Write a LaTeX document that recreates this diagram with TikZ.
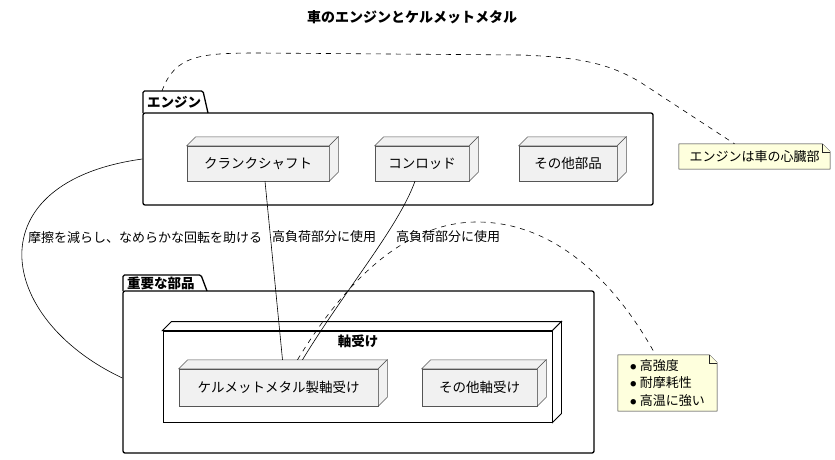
\documentclass[tikz,border=0pt]{standalone}
\usepackage{fontspec}
\setmainfont{Noto Sans CJK JP}
\usetikzlibrary{calc}
\definecolor{nodefill}{HTML}{F1F1F1}
\definecolor{nodeline}{HTML}{555555}
\definecolor{notefill}{HTML}{FEFFDD}
\newcommand\threedparts[2]{%
  \filldraw[#2] (#1.north west) -- ++(9,-9) -- ([shift={(9,-9)}]#1.north east) -- (#1.north east) -- cycle;
  \filldraw[#2] (#1.north east) -- ++(9,-9) -- ([shift={(9,-9)}]#1.south east) -- (#1.south east) -- cycle;}
\newcommand\notedraw[1]{%
  \filldraw[noteline] (#1.north west) -- ([xshift=-8pt]#1.north east) -- ([yshift=-8pt]#1.north east) -- (#1.south east) -- (#1.south west) -- cycle;
  \draw[noteline] ([xshift=-8pt]#1.north east) -- ([xshift=-8pt,yshift=-8pt]#1.north east) -- ([yshift=-8pt]#1.north east);}
\newcommand\bulletdot{\raisebox{1.2pt}{\fontsize{6}{7}\selectfont ●}\hspace{3.5pt}}
\tikzset{
  partbox/.style={draw=nodeline, fill=nodefill, line width=0.5pt, inner sep=0pt, font=\fontsize{13.5}{16}\selectfont},
  partside/.style={draw=nodeline, fill=nodefill, line width=0.5pt},
  groupbox/.style={draw=black, fill=white, line width=0.9pt, inner sep=0pt},
  groupside/.style={draw=black, fill=white, line width=0.9pt},
  pkgbox/.style={draw=black, line width=1.3pt, rounded corners=2pt, inner sep=0pt},
  pkgtab/.style={draw=black, line width=1.3pt, rounded corners=1.5pt},
  pkglabel/.style={font=\bfseries\fontsize{13.5}{16}\selectfont, anchor=west, inner sep=0pt},
  conn/.style={draw=black, line width=0.6pt},
  noteconn/.style={draw=black, line width=0.6pt, dash pattern=on 5pt off 5pt},
  noteline/.style={draw=black!85, fill=notefill, line width=0.5pt},
  notebox/.style={inner sep=0pt, font=\fontsize{13}{17.5}\selectfont, align=left},
  lbl/.style={font=\fontsize{13}{16}\selectfont, inner sep=0pt},
}
\begin{document}
\begin{tikzpicture}[x=1pt,y=-1pt]
\useasboundingbox (0,0) rectangle (835,460);
\node[font=\bfseries\fontsize{14}{16}\selectfont] (title) at (412,17) {車のエンジンとケルメットメタル};

% package Engine
\draw[pkgtab] (143,113) -- (143,91) -- (203,91) -- (208,113);
\node[pkgbox, minimum width=510, minimum height=92] (engine) at (398,159) {};
\node[pkglabel] (enginetab) at (147,102) {エンジン};
\coordinate (enginetop) at (162,91);

% package Important parts
\draw[pkgtab] (123,291) -- (123,275) -- (201,275) -- (207,291);
\node[pkgbox, minimum width=471, minimum height=162] (important) at (358.5,372) {};
\node[pkglabel] (importanttab) at (127,283) {重要な部品};

% engine parts
\node[partbox, minimum width=142, minimum height=35] (crank) at (258,163.5) {クランクシャフト};
\threedparts{crank}{partside}
\node[partbox, minimum width=94, minimum height=35] (conrod) at (422,163.5) {コンロッド};
\threedparts{conrod}{partside}
\node[partbox, minimum width=98, minimum height=35] (otherparts) at (568,163.5) {その他部品};
\threedparts{otherparts}{partside}

% bearings group
\node[groupbox, minimum width=389, minimum height=91] (bearings) at (357.5,376.5) {};
\threedparts{bearings}{groupside}
\node[font=\bfseries\fontsize{13.5}{16}\selectfont, inner sep=0pt] (bearingstitle) at (358,341) {軸受け};
\node[partbox, minimum width=199, minimum height=37] (kelmet) at (278.5,387.5) {ケルメットメタル製軸受け};
\threedparts{kelmet}{partside}
\node[partbox, minimum width=115, minimum height=37] (otherbearing) at (479.5,387.5) {その他軸受け};
\threedparts{otherbearing}{partside}

% notes
\node[notebox, minimum width=151, minimum height=25] (note1) at (754.5,156.5) {};
\notedraw{note1}
\node[notebox] at (note1) {エンジンは車の心臓部};
\node[notebox, minimum width=99, minimum height=56] (note2) at (667.5,383) {};
\notedraw{note2}
\node[notebox] at (note2) {\bulletdot 高強度\\\bulletdot 耐摩耗性\\\bulletdot 高温に強い};

% connectors
\draw[conn] (engine.west) .. controls (-25,182) and (-5,318) .. ([yshift=-6pt]important.west);
\node[lbl] (lblfriction) at (145,238) {摩擦を減らし、なめらかな回転を助ける};
\draw[conn] ([xshift=7pt]crank.south) -- ([xshift=4pt,yshift=9pt]kelmet.north);
\node[lbl] (lblload1) at (324,237) {高負荷部分に使用};
\draw[conn] ([xshift=-7pt]conrod.south) .. controls (398,228) and (345,290) .. ([xshift=24pt,yshift=9pt]kelmet.north);
\node[lbl] (lblload2) at (448,237) {高負荷部分に使用};

\draw[noteconn] (enginetop) .. controls (175,55) and (200,53) .. (260,53) -- (520,55) .. controls (580,57) and (610,64) .. (640,82) -- ([xshift=-20pt]note1.north);
\draw[noteconn] ([xshift=19pt,yshift=9pt]kelmet.north) .. controls (340,290) and (400,222) .. (477,222) .. controls (560,222) and (620,290) .. ([xshift=-12pt]note2.north);
\end{tikzpicture}
\end{document}
